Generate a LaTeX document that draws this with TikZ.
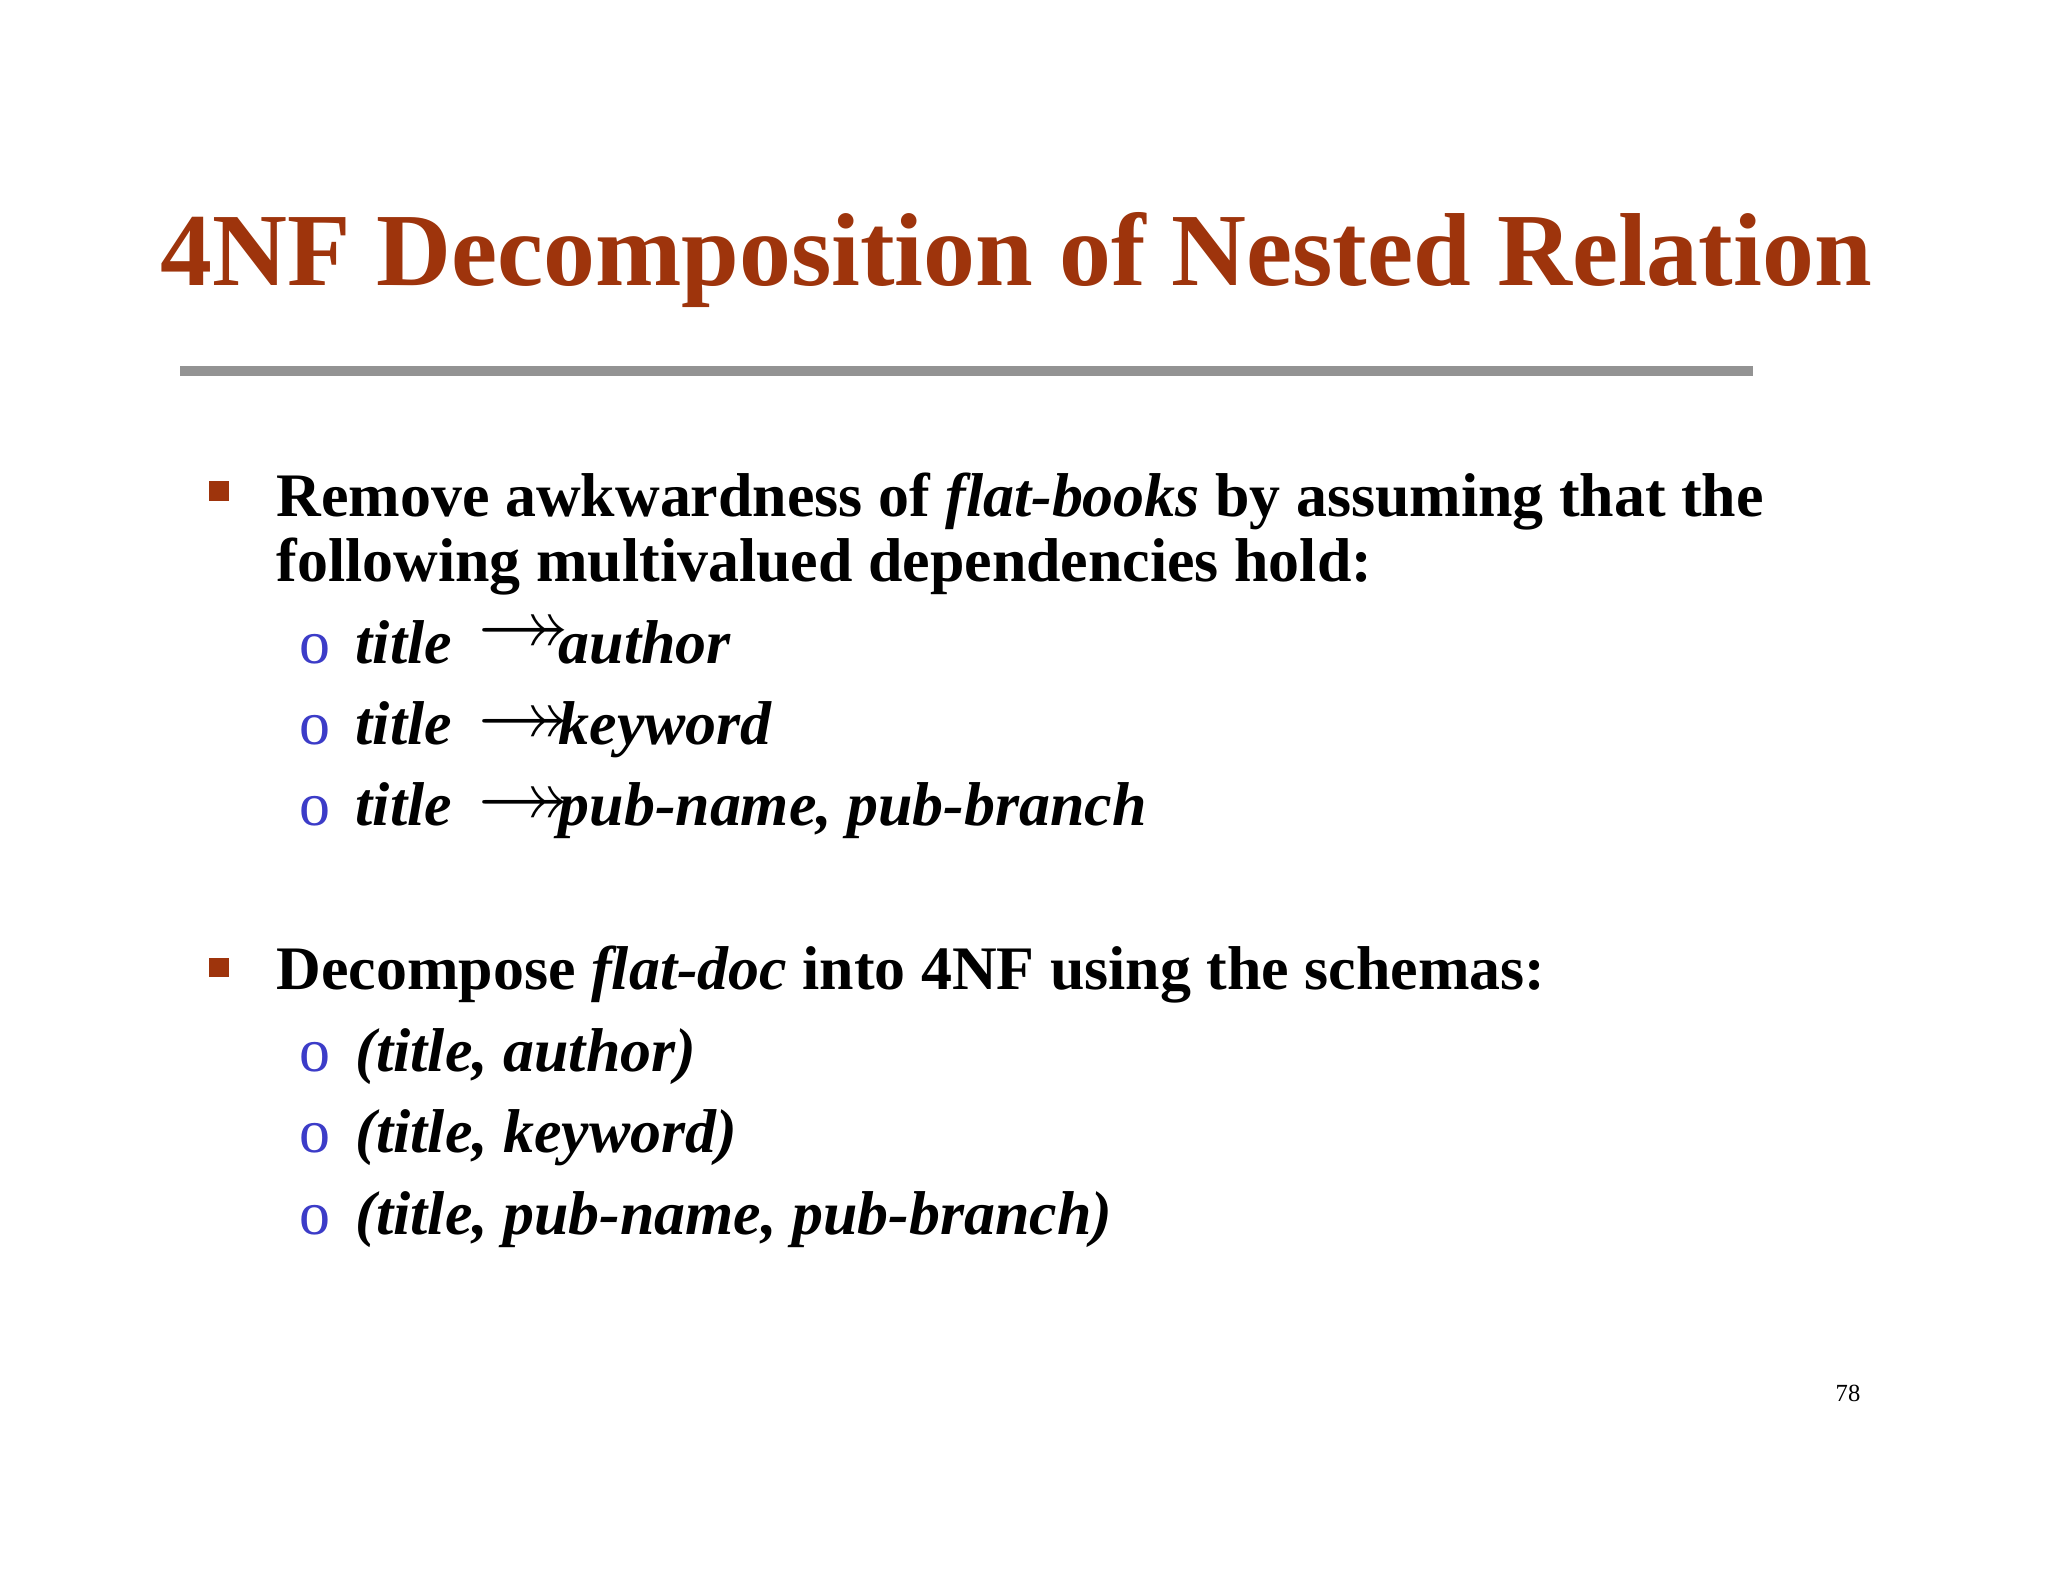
\documentclass[tikz,border=0pt]{standalone}
\usepackage{amssymb}
\usepackage{fontspec}
\setmainfont{Liberation Serif}
\definecolor{ttl}{RGB}{158,52,12}
\definecolor{sub}{RGB}{60,60,200}
\begin{document}
\begin{tikzpicture}[x=0.01cm,y=-0.01cm,
  body/.style={anchor=base west,inner sep=0,font=\fontsize{17.6}{21}\selectfont\bfseries},
  bit/.style={body,font=\fontsize{17.6}{21}\selectfont\bfseries\itshape},
  obul/.style={anchor=base west,inner sep=0,text=sub,font=\fontsize{17.6}{21}\selectfont},
  sq/.style={fill=ttl,minimum size=0.19cm,inner sep=0}]
\useasboundingbox (0,0) rectangle (2048,1582);
\fill[white] (0,0) rectangle (2048,1582);
\node[anchor=base,inner sep=0,text=ttl,font=\fontsize{29.5}{35}\selectfont\bfseries] (title) at (1016,285) {4NF Decomposition of Nested Relation};
\draw[line width=2.8pt,gray!85] (180,371) coordinate (r1) -- (1753,371) coordinate (r2);
\node[sq] (s1) at (219,491) {};
\node[body] (b1) at (276,516) {Remove awkwardness of \textit{flat-books} by assuming that the};
\node[body] (b1b) at (276,581) {following multivalued dependencies hold:};
\foreach \y/\t/\r in {663/author/0.15em,744/keyword/0em,825/{pub-name, pub-branch}/0em}{
  \node[obul] at (299,\y) {o};
  \node[bit] at (355,\y) {title};
  \node[body] at (477,\y) {\raisebox{\r}{\scalebox{1.5}{$\twoheadrightarrow$}}};
  \node[bit] at (558,\y) {\t};
}
\node[sq] (s2) at (219,967) {};
\node[body] (b2) at (276,989) {Decompose \textit{flat-doc} into 4NF using the schemas:};
\foreach \y/\t in {1071/{(title, author)},1152/{(title, keyword)},1234/{(title, pub-name, pub-branch)}}{
  \node[obul] at (299,\y) {o};
  \node[bit] at (355,\y) {\t};
}
\node[anchor=base,inner sep=0,font=\fontsize{7}{8}\selectfont] (pg) at (1848,1401) {78};
\end{tikzpicture}
\end{document}
